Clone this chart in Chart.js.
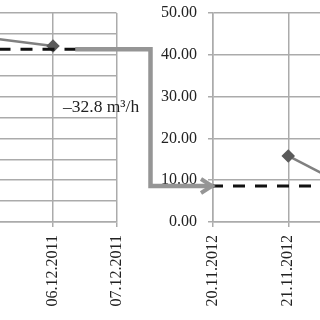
<!DOCTYPE html>
<html>
<head>
<meta charset="utf-8">
<script src="https://cdn.jsdelivr.net/npm/chart.js@4/dist/chart.umd.min.js"></script>
<style>
  html, body { margin: 0; padding: 0; background: #fff; }
  #wrap { position: relative; width: 320px; height: 320px; overflow: hidden; background: #fff; }
  canvas { position: absolute; top: 0; }
</style>
</head>
<body>
<div id="wrap">
  <canvas id="leftChart" width="142" height="320" style="left:-18px"></canvas>
  <canvas id="rightChart" width="211" height="320" style="left:160px"></canvas>
  <canvas id="overlay" width="320" height="320" style="left:0"></canvas>
</div>
<script>
// data (flow, m3/h)
const leftDates = ['05.12.2011', '06.12.2011', '07.12.2011'];
const leftFlow = [44.0, 42.1, null];
const leftMean = [41.3, 41.3, 41.3];

const rightDates = ['20.11.2012', '21.11.2012', '22.11.2012'];
const rightFlow = [null, 15.8, 6.5];
const rightMean = [8.6, 8.6, 8.6];

const yMin = 0;
const yMax = 50;
const yStep = 5;
const changeLabel = '\u201332.8 m\u00b3/h';

const font = { family: "'Liberation Serif', 'Times New Roman', serif", size: 16 };
const gridColor = '#ababab';
const textColor = '#222';

function flowSet(values) {
  return {
    data: values,
    borderColor: '#808080',
    borderWidth: 2.5,
    pointStyle: 'rectRot',
    pointRadius: 5,
    pointBackgroundColor: '#5a5a5a',
    pointBorderColor: '#5a5a5a',
    tension: 0
  };
}

function meanSet(values, offset) {
  return {
    data: values,
    borderColor: '#111',
    borderWidth: 3,
    borderDash: [12, 10],
    borderDashOffset: offset,
    pointRadius: 0
  };
}

function xAxis() {
  return {
    grid: { color: gridColor, lineWidth: 1.5, tickLength: 5 },
    border: { color: gridColor, width: 1.5 },
    ticks: {
      color: textColor, font: font, padding: 8,
      minRotation: 90, maxRotation: 90, autoSkip: false
    },
    afterFit: function(scale) {
      scale.height = 98;
      scale.paddingLeft = 0;
      scale.paddingRight = 0;
    }
  };
}

function yAxis(showLabels) {
  return {
    min: yMin, max: yMax,
    grid: { color: gridColor, lineWidth: 1.5, tickLength: 5 },
    border: { display: showLabels, color: gridColor, width: 1.5 },
    ticks: {
      display: showLabels, stepSize: yStep, color: textColor, font: font, padding: 11,
      callback: v => v.toFixed(2)
    },
    afterFit: function(scale) {
      scale.width = showLabels ? 53 : 0;
      scale.paddingTop = 0;
      scale.paddingBottom = 0;
    }
  };
}

function baseOptions(showLabels) {
  return {
    responsive: false,
    animation: false,
    layout: { padding: { top: 13, left: 0, right: 0, bottom: 0 } },
    plugins: { legend: { display: false }, tooltip: { enabled: false } },
    scales: { x: xAxis(), y: yAxis(showLabels) }
  };
}

const leftChart = new Chart(document.getElementById('leftChart'), {
  type: 'line',
  data: { labels: leftDates, datasets: [meanSet(leftMean, 13), flowSet(leftFlow)] },
  options: baseOptions(false)
});

const rightChart = new Chart(document.getElementById('rightChart'), {
  type: 'line',
  data: { labels: rightDates, datasets: [meanSet(rightMean, 2), flowSet(rightFlow)] },
  options: baseOptions(true)
});

// step arrow from the 2011 mean level to the 2012 mean level
function drawArrow() {
  const ctx = document.getElementById('overlay').getContext('2d');
  const leftOffset = -18, rightOffset = 160;
  const y1 = leftChart.scales.y.getPixelForValue(leftMean[0]);
  const y2 = rightChart.scales.y.getPixelForValue(rightMean[0]);
  const x0 = leftOffset + leftChart.scales.x.getPixelForValue(1.35);
  const xc = leftOffset + leftChart.chartArea.right + 34;
  const xe = rightOffset + rightChart.chartArea.left - 1;

  ctx.strokeStyle = '#959595';
  ctx.lineWidth = 4.5;
  ctx.lineJoin = 'miter';
  ctx.beginPath();
  ctx.moveTo(x0, y1);
  ctx.lineTo(xc, y1);
  ctx.lineTo(xc, y2);
  ctx.lineTo(xe, y2);
  ctx.stroke();

  ctx.lineWidth = 4;
  ctx.beginPath();
  ctx.moveTo(xe - 11, y2 - 7);
  ctx.lineTo(xe, y2);
  ctx.lineTo(xe - 11, y2 + 7);
  ctx.stroke();

  ctx.fillStyle = textColor;
  ctx.font = "17.5px 'Liberation Serif', 'Times New Roman', serif";
  ctx.textBaseline = 'alphabetic';
  ctx.fillText(changeLabel, 63, 112);
}
drawArrow();
</script>
</body>
</html>
